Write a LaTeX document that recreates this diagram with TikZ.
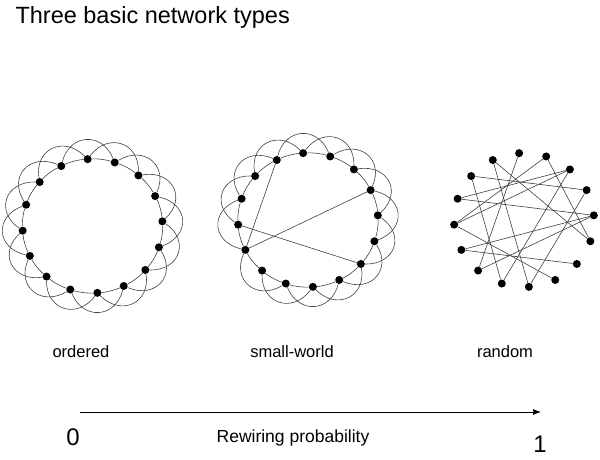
\documentclass[tikz,border=0pt]{standalone}
\usepackage{fontspec}
\setmainfont{Liberation Sans}
\usetikzlibrary{arrows.meta}

\begin{document}
\begin{tikzpicture}[x=1pt,y=-1pt,>={Latex[length=8pt,width=6pt]},
    main node/.style={circle,fill=black,inner sep=0pt,minimum size=8pt},
    link/.style={draw=black!75,line width=0.6pt},
    label node/.style={font=\fontsize{16.5}{19}\selectfont},
    digit node/.style={font=\fontsize{24}{27}\selectfont}]
    \path[use as bounding box] (0,0) rectangle (600,460);

    \node[anchor=west,font=\fontsize{23.5}{27}\selectfont] (title) at (12,17) {Three basic network types};

    % nodes of the three rings
    \foreach \net/\cx/\cy in {o/92.5/226, s/308/220, r/524/220}
        \foreach \i in {0,...,15}
            \node[main node] (\net\i) at ({\cx+70*cos(4+22.5*\i)},{\cy-67*sin(4+22.5*\i)}) {};

    % ring lattice: neighbours and second neighbours
    \foreach \net/\cx/\cy/\gone in {o/92.5/226/99, s/308/220/8}
        \foreach \i in {0,...,15} {
            \pgfmathtruncatemacro\j{mod(\i+1,16)}
            \pgfmathtruncatemacro\k{mod(\i+2,16)}
            \pgfmathsetmacro\a{4+22.5*\i}
            \draw[link] (\net\i) .. controls ({\cx+70.6*cos(\a+7.5)},{\cy-67.6*sin(\a+7.5)})
                and ({\cx+70.6*cos(\a+15)},{\cy-67.6*sin(\a+15)}) .. (\net\j);
            \ifnum\i=\gone\else
                \draw[link] (\net\i) .. controls ({\cx+99*cos(\a+13)},{\cy-95*sin(\a+13)})
                    and ({\cx+99*cos(\a+32)},{\cy-95*sin(\a+32)}) .. (\net\k);
            \fi
        }

    % rewired shortcuts
    \path[link]
        (s8) edge (s14)
        (s9) edge (s1)
        (s9) edge (s5)
        ;

    % random graph
    \foreach \u/\v in {4/10, 5/12, 5/15, 6/1, 6/11, 7/2, 7/0, 8/3, 8/2, 8/13,
                       9/14, 2/11, 3/15, 1/12, 0/10, 9/0}
        \draw[link] (r\u) -- (r\v);

    \node[label node] (ordered) at (81,352) {ordered};
    \node[label node] (smallworld) at (292,352) {small-world};
    \node[label node] (random) at (505,352) {random};

    \coordinate (p0) at (80,412);
    \coordinate (p1) at (541,412);
    \draw[->,line width=0.7pt] (p0) -- (p1);

    \node[digit node] (zero) at (73,437) {0};
    \node[digit node] (one) at (540,444) {1};
    \node[font=\fontsize{17.5}{20}\selectfont] (axis) at (293,438) {Rewiring probability};
\end{tikzpicture}
\end{document}
